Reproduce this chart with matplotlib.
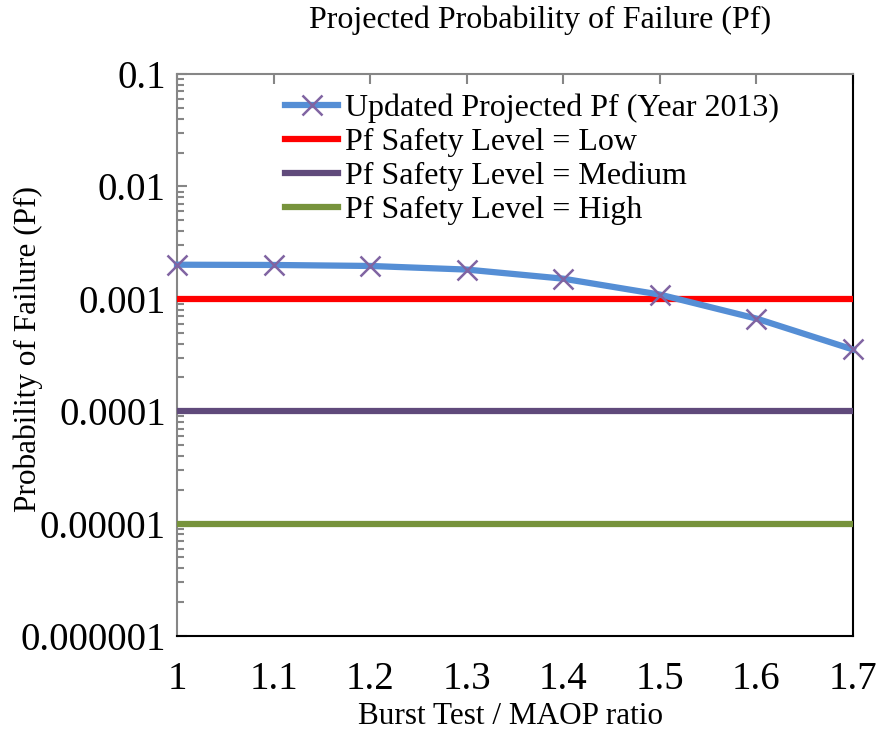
import numpy as np
import matplotlib.pyplot as plt
from matplotlib.ticker import LogLocator, NullFormatter

plt.rcParams['font.family'] = ['Liberation Serif', 'DejaVu Serif']

# data
ratio = [1.0, 1.1, 1.2, 1.3, 1.4, 1.5, 1.6, 1.7]
pf_2013 = [0.00201, 0.00200, 0.00196, 0.00182, 0.00151, 0.00109, 0.000667, 0.000354]
niveis = {'Low': 0.001, 'Medium': 0.0001, 'High': 0.00001}
cores_niveis = {'Low': '#FF0000', 'Medium': '#604A7B', 'High': '#77933C'}
yticks = [1e-6, 1e-5, 1e-4, 1e-3, 1e-2, 1e-1]
ytick_labels = ['0.000001', '0.00001', '0.0001', '0.001', '0.01', '0.1']

fig = plt.figure(figsize=(8.76, 7.36), dpi=100)
ax = fig.add_axes([177 / 876, 1 - 636 / 736, (853 - 177) / 876, (636 - 74) / 736])

ax.plot(ratio, pf_2013, color='#558ED5', lw=4.5, marker='x', ms=15, mew=1.8,
        mec='#8064A2', label='Updated Projected Pf (Year 2013)', zorder=4, clip_on=False)
for nome, valor in niveis.items():
    ax.plot([ratio[0], ratio[-1]], [valor, valor], color=cores_niveis[nome], lw=4.5,
            label=f'Pf Safety Level = {nome}', zorder=3)

ax.set_yscale('log')
ax.set_ylim(1e-6, 1e-1)
ax.set_xlim(1.0, 1.7)
ax.set_yticks(yticks)
ax.set_yticklabels(ytick_labels)
ax.yaxis.set_minor_locator(LogLocator(base=10, subs=np.arange(2, 10)))
ax.yaxis.set_minor_formatter(NullFormatter())
ax.set_xticks(ratio)
ax.set_xticklabels([f'{v:g}' for v in ratio])

# eixos no estilo do excel
for lado in ['left', 'top']:
    ax.spines[lado].set_color('#868686')
    ax.spines[lado].set_linewidth(1.5)
for lado in ['right', 'bottom']:
    ax.spines[lado].set_color('black')
    ax.spines[lado].set_linewidth(1.5)

ax.tick_params(axis='y', which='both', direction='in', color='#868686', width=1.5,
               labelsize=28, pad=8)
ax.tick_params(axis='y', which='major', length=7)
ax.tick_params(axis='y', which='minor', length=5)
ax.tick_params(axis='x', which='major', direction='in', top=True, bottom=False,
               color='#868686', width=1.5, length=7, labelsize=28, pad=18)

fig.text(540 / 876, 1 - 20 / 736, 'Projected Probability of Failure (Pf)', fontsize=23,
         ha='center', va='center')
fig.text(510 / 876, 1 - 717 / 736, 'Burst Test / MAOP ratio', fontsize=22.5,
         ha='center', va='center')
fig.text(28 / 876, 1 - 349 / 736, 'Probability of Failure (Pf)', fontsize=22.5,
         ha='center', va='center', rotation=90)

ax.legend(loc='upper left', bbox_to_anchor=(0.16, 0.965), frameon=False, fontsize=23,
          handlelength=1.66, handletextpad=0.2, labelspacing=0.14, borderpad=0,
          borderaxespad=0)

fig.savefig('out.png', dpi=100)
